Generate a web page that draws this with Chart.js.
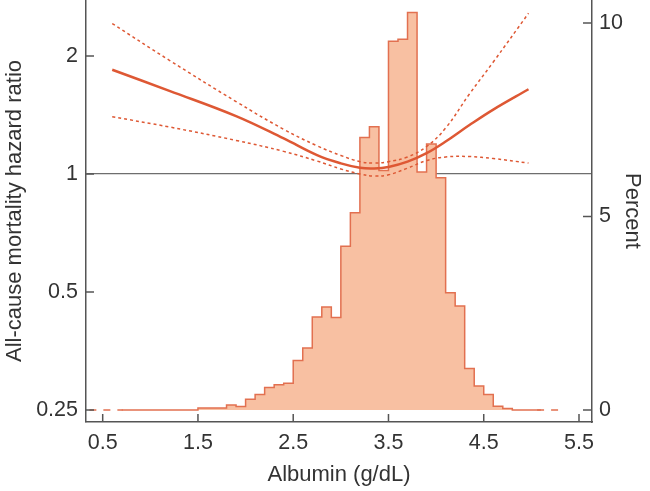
<!DOCTYPE html>
<html lang="en">
<head>
<meta charset="UTF-8">
<title>Albumin and all-cause mortality</title>
<style>
  body {
    margin: 0;
    background: #fff;
  }
  .wrap {
    width: 650px;
    height: 491px;
  }
</style>
<script src="https://cdn.jsdelivr.net/npm/chart.js"></script>
</head>
<body>
<div class="wrap"><canvas id="hrChart"></canvas></div>
<script>
// tick labels
const albuminTicks = [0.5, 1.5, 2.5, 3.5, 4.5, 5.5];
const hrTicks = [0.25, 0.5, 1, 2];
const percentTicks = [0, 5, 10];

// spline fit
const albuminX = [0.6, 1.2, 1.9, 2.4, 2.75, 3.0, 3.2, 3.35, 3.5, 3.7, 3.9, 4.1, 4.35, 4.6, 4.97];
const hrFit   = [1.845, 1.63, 1.405, 1.232, 1.117, 1.064, 1.037, 1.033, 1.042, 1.075, 1.13, 1.21, 1.333, 1.46, 1.645];
const hrUpper = [2.42, 1.95, 1.53, 1.30, 1.18, 1.115, 1.075, 1.066, 1.075, 1.105, 1.175, 1.31, 1.60, 1.93, 2.57];
const hrLower = [1.40, 1.318, 1.218, 1.142, 1.079, 1.03, 1.0, 0.988, 0.995, 1.035, 1.082, 1.105, 1.108, 1.095, 1.066];

// histogram: bin left edges (width 0.1) and percent of patients
const binEdges = [0.7, 0.8, 0.9, 1.0, 1.1, 1.2, 1.3, 1.4, 1.5, 1.6, 1.7, 1.8, 1.9, 2.0, 2.1, 2.2,
  2.3, 2.4, 2.5, 2.6, 2.7, 2.8, 2.9, 3.0, 3.1, 3.2, 3.3, 3.4, 3.5, 3.6, 3.7, 3.8, 3.9, 4.0,
  4.1, 4.2, 4.3, 4.4, 4.5, 4.6, 4.7, 4.8, 4.9, 5.0, 5.1];
const binPercent = [0, 0, 0, 0, 0, 0, 0, 0, 0.05, 0.05, 0.05, 0.13, 0.09, 0.28, 0.4, 0.58,
  0.65, 0.69, 1.28, 1.6, 2.4, 2.66, 2.39, 4.23, 5.1, 7.04, 7.32, 6.19, 9.53, 9.58, 10.27, 6.15, 6.87, 6.0,
  3.03, 2.69, 1.07, 0.62, 0.4, 0.1, 0.04, 0, 0, 0];
// dashed baseline beyond the histogram range
const dashLeft = [0.36, 0.71];
const dashRight = [5.06, 5.3];

const lineColor = 'rgb(222, 88, 52)';
const barFill = 'rgb(248, 192, 162)';
const barEdge = 'rgb(226, 112, 80)';
const axisColor = '#555';
const textColor = '#333';
const fontFamily = '"Liberation Sans", Arial, Helvetica, sans-serif';

function pairs(xs, ys) {
  return xs.map((x, i) => ({ x: x, y: ys[i] }));
}

function histPoints() {
  const pts = [{ x: binEdges[0], y: 0 }];
  binPercent.forEach((p, i) => {
    pts.push({ x: binEdges[i], y: p });
    pts.push({ x: binEdges[i + 1], y: p });
  });
  pts.push({ x: binEdges[binEdges.length - 1], y: 0 });
  return pts;
}

const dashPoints = [
  { x: dashLeft[0], y: 0 }, { x: dashLeft[1], y: 0 },
  { x: (dashLeft[1] + dashRight[0]) / 2, y: null },
  { x: dashRight[0], y: 0 }, { x: dashRight[1], y: 0 }
];

function setTicks(list) {
  return scale => { scale.ticks = list.map(v => ({ value: v })); };
}

function fixSize(dim, size) {
  return scale => {
    scale[dim] = size;
    scale.paddingTop = 0;
    scale.paddingBottom = 0;
    scale.paddingLeft = 0;
    scale.paddingRight = 0;
  };
}

// tick marks point into the plot
const inwardTicks = {
  id: 'inwardTicks',
  afterDraw(chart) {
    const ctx = chart.ctx;
    const { x, yHr, yPct } = chart.scales;
    const area = chart.chartArea;
    ctx.save();
    ctx.strokeStyle = axisColor;
    ctx.lineWidth = 1.5;
    ctx.beginPath();
    albuminTicks.forEach(v => {
      const px = x.getPixelForValue(v);
      ctx.moveTo(px, area.bottom);
      ctx.lineTo(px, area.bottom - 8);
    });
    hrTicks.forEach(v => {
      const py = yHr.getPixelForValue(v);
      ctx.moveTo(area.left, py);
      ctx.lineTo(area.left + 8, py);
    });
    percentTicks.forEach(v => {
      const py = yPct.getPixelForValue(v);
      ctx.moveTo(area.right, py);
      ctx.lineTo(area.right - 9, py);
    });
    ctx.stroke();
    ctx.restore();
  }
};

const ctx = document.getElementById('hrChart').getContext('2d');
const hrChart = new Chart(ctx, {
  type: 'line',
  data: {
    datasets: [
      {
        label: 'Hazard ratio',
        data: pairs(albuminX, hrFit),
        yAxisID: 'yHr',
        borderColor: lineColor,
        borderWidth: 2.5,
        tension: 0.4,
        pointRadius: 0
      },
      {
        label: 'Upper 95% CI',
        data: pairs(albuminX, hrUpper),
        yAxisID: 'yHr',
        borderColor: lineColor,
        borderWidth: 1.5,
        borderDash: [3, 3],
        tension: 0.4,
        pointRadius: 0
      },
      {
        label: 'Lower 95% CI',
        data: pairs(albuminX, hrLower),
        yAxisID: 'yHr',
        borderColor: lineColor,
        borderWidth: 1.5,
        borderDash: [3, 3],
        tension: 0.4,
        pointRadius: 0
      },
      {
        label: 'baseline',
        data: dashPoints,
        yAxisID: 'yPct',
        borderColor: barEdge,
        borderWidth: 1.5,
        borderDash: [7, 7],
        spanGaps: false,
        pointRadius: 0
      },
      {
        label: 'Percent',
        data: histPoints(),
        yAxisID: 'yPct',
        borderColor: barEdge,
        borderWidth: 1.5,
        backgroundColor: barFill,
        fill: 'origin',
        tension: 0,
        pointRadius: 0
      }
    ]
  },
  options: {
    responsive: true,
    maintainAspectRatio: false,
    animation: false,
    layout: { padding: 0 },
    plugins: {
      legend: { display: false },
      tooltip: { enabled: false }
    },
    scales: {
      x: {
        type: 'linear',
        min: 0.3247,
        max: 5.6365,
        afterBuildTicks: setTicks(albuminTicks),
        afterFit: fixSize('height', 69),
        grid: { display: false, drawTicks: false },
        border: { display: true, color: axisColor, width: 1.5 },
        ticks: {
          autoSkip: false,
          maxRotation: 0,
          padding: 8,
          color: textColor,
          font: { family: fontFamily, size: 21.5 },
          callback: v => v.toFixed(1)
        },
        title: {
          display: true,
          text: 'Albumin (g/dL)',
          color: textColor,
          font: { family: fontFamily, size: 22 },
          padding: { top: 0, bottom: 3 }
        }
      },
      yHr: {
        type: 'logarithmic',
        position: 'left',
        min: 0.2329,
        max: 2.779,
        afterBuildTicks: setTicks(hrTicks),
        afterFit: fixSize('width', 86),
        grid: {
          drawTicks: false,
          color: c => (c.tick && c.tick.value === 1 ? '#6e6e6e' : 'rgba(0,0,0,0)'),
          lineWidth: 1.2
        },
        border: { display: true, color: axisColor, width: 1.5 },
        ticks: {
          autoSkip: false,
          padding: 8,
          color: textColor,
          font: { family: fontFamily, size: 21.5 },
          callback: v => String(v)
        },
        title: {
          display: true,
          text: 'All-cause mortality hazard ratio',
          color: textColor,
          font: { family: fontFamily, size: 22 },
          padding: { top: 2, bottom: 0 }
        }
      },
      yPct: {
        type: 'linear',
        position: 'right',
        min: -0.31,
        max: 10.594,
        afterBuildTicks: setTicks(percentTicks),
        afterFit: fixSize('width', 58),
        grid: { display: false, drawTicks: false },
        border: { display: true, color: axisColor, width: 1.5 },
        ticks: {
          autoSkip: false,
          padding: 7,
          color: textColor,
          font: { family: fontFamily, size: 21.5 },
          callback: v => String(v)
        },
        title: {
          display: true,
          text: 'Percent',
          color: textColor,
          font: { family: fontFamily, size: 22 },
          padding: { top: 5, bottom: 0 }
        }
      }
    }
  },
  plugins: [inwardTicks]
});
</script>
</body>
</html>
